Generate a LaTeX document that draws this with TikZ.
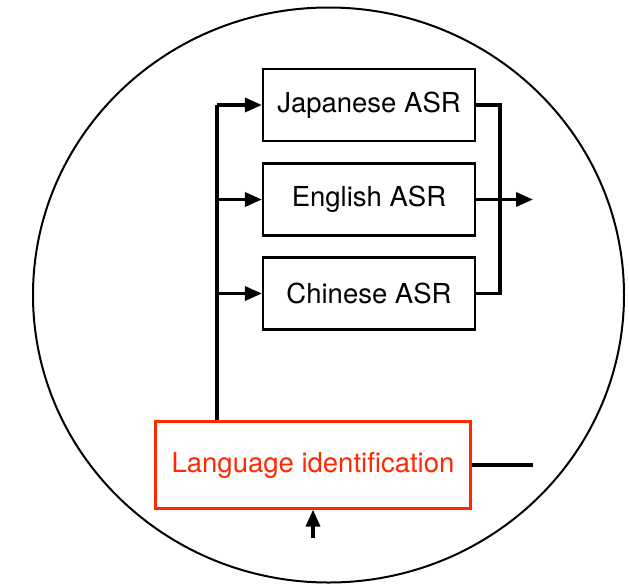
\documentclass[tikz,border=0pt]{standalone}
\usepackage{fontspec}
\setmainfont{TeX Gyre Heros}
\usetikzlibrary{arrows.meta}
\definecolor{lidred}{RGB}{255,40,0}
\tikzset{>={Triangle[length=17pt,width=14pt]}}
\tikzset{
  asrbox/.style={draw,line width=2.2pt,minimum width=212pt,minimum height=72pt,inner sep=0pt},
  lidbox/.style={draw=lidred,text=lidred,line width=2.2pt,minimum width=315pt,minimum height=87pt,inner sep=0pt},
  wire/.style={line width=3.4pt}
}

\begin{document}
\begin{tikzpicture}[x=1pt,y=-1pt,font=\fontsize{27.5}{32}\selectfont]
    \useasboundingbox (0,0) rectangle (629,584);
    \draw[line width=2pt] (328.5,295) ellipse [x radius=295.5pt, y radius=287.5pt];

    % one recogniser per language
    \foreach \name/\lang/\ypos in {ja/Japanese/105,en/English/199.5,zh/Chinese/293.5} {
        \node[asrbox] (\name) at (369,\ypos) {\lang{} ASR};
      }
    \node[lidbox] (lid) at (313,465) {Language identification};

    \coordinate (split) at (217,105);
    \coordinate (merge) at (500,105);
    \coordinate (out) at (533,199.5);
    \coordinate (lidout) at (533,465);
    \coordinate (in) at (313,538);

    \draw[wire] (lid.north -| split) -- (split);
    \foreach \name in {ja,en,zh} {
        \draw[wire,->] (split |- \name.west) -- (\name.west);
      }
    \draw[wire] (ja.east) -| (merge |- en.east) |- (zh.east);
    \draw[wire,->] (en.east) -- (out);
    \draw[wire] (lid.east) -- (lidout);
    \draw[wire,->] (in) -- (lid.south);
  \end{tikzpicture}
\end{document}
